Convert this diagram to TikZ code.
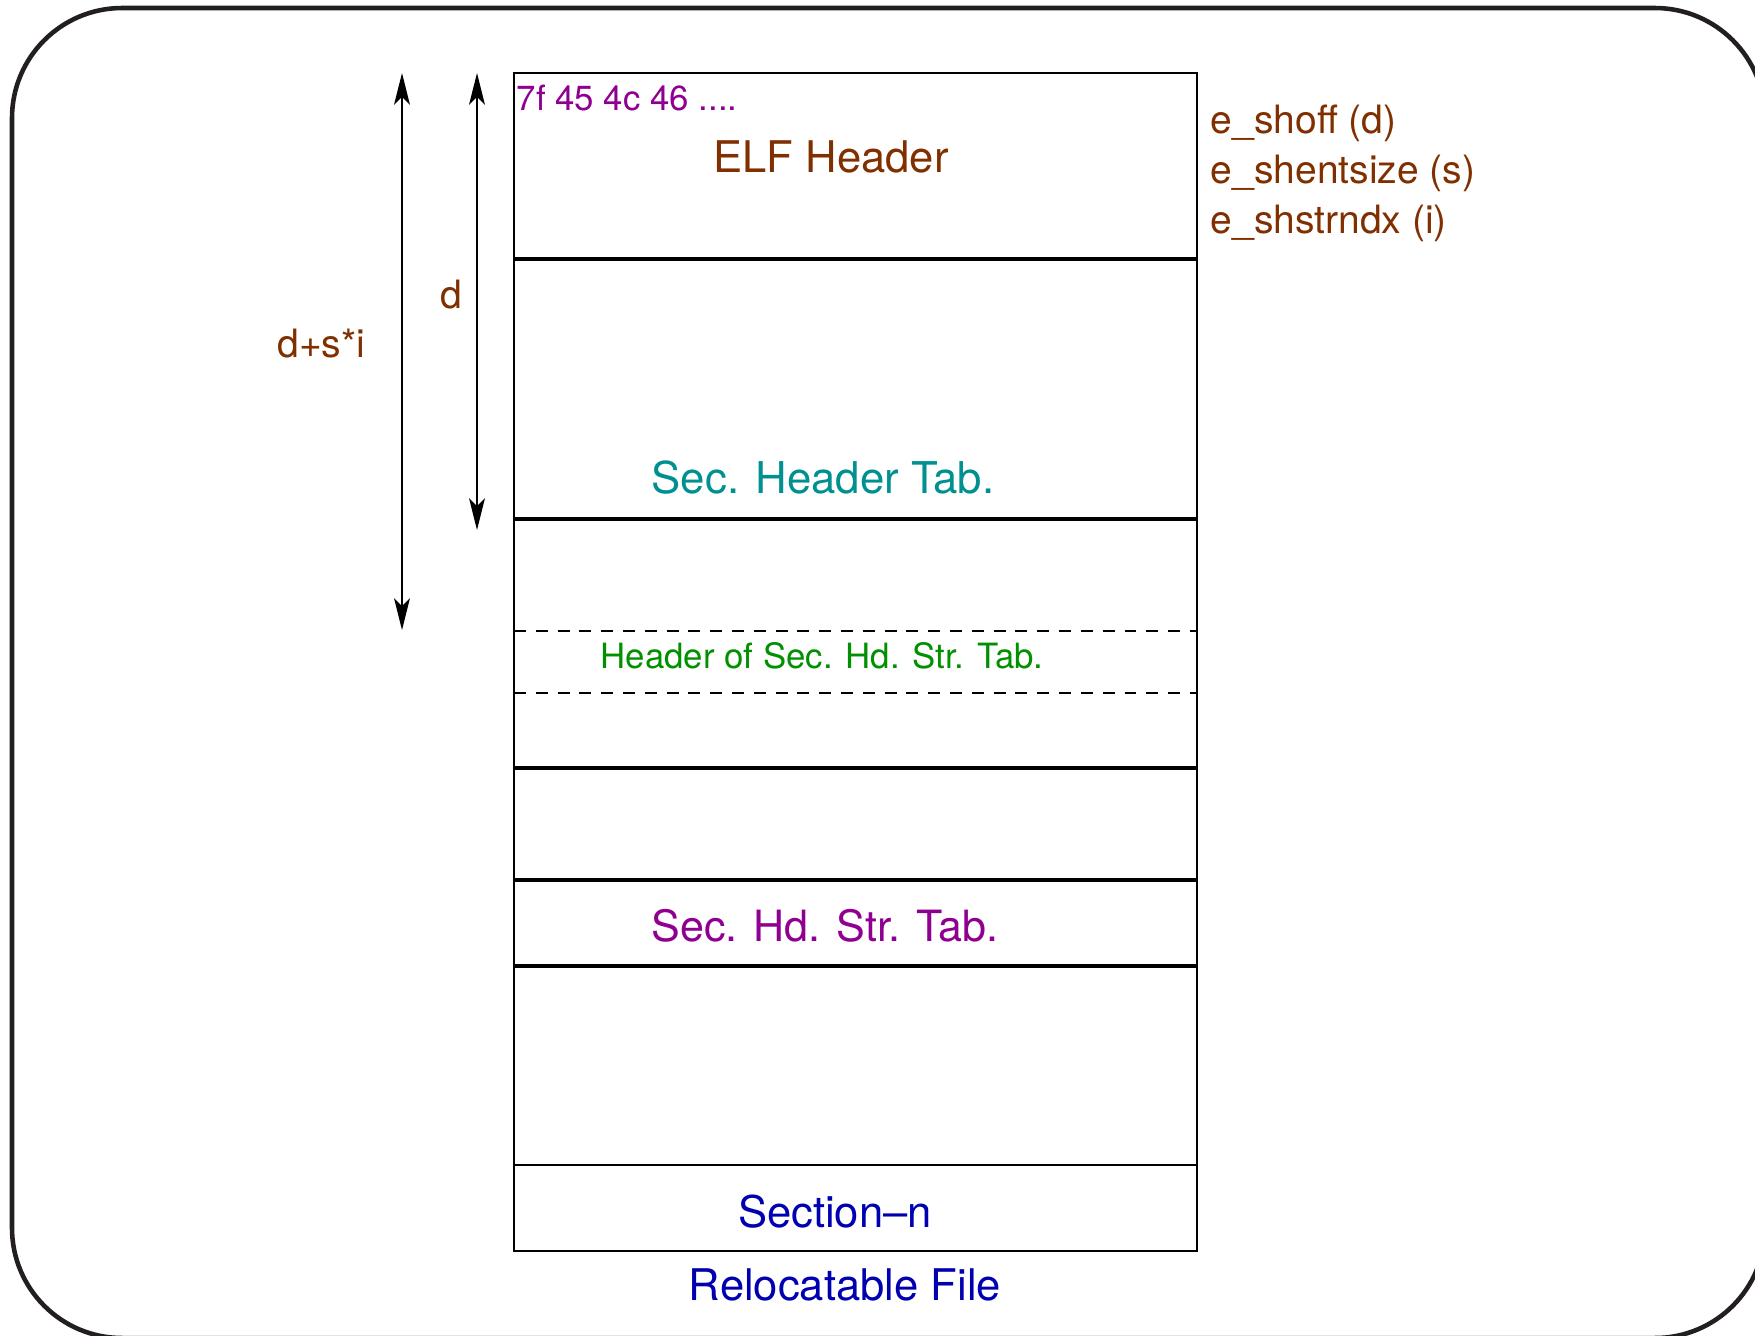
\documentclass[tikz,border=0pt]{standalone}
\usepackage{fontspec}
\setmainfont{TeX Gyre Heros}
\usetikzlibrary{arrows.meta, positioning}

\definecolor{framegray}{HTML}{231F20}
\definecolor{elfbrown}{HTML}{803000}
\definecolor{hexpurple}{HTML}{900090}
\definecolor{shtteal}{HTML}{009090}
\definecolor{hdrgreen}{HTML}{009000}
\definecolor{fileblue}{HTML}{0000B0}

\begin{document}
\begin{tikzpicture}[
    x=0.01cm, y=-0.01cm,
    frame/.style={draw=framegray, line width=1.3pt, rounded corners=1.1cm},
    boxline/.style={draw=black, line width=0.6pt},
    sepline/.style={draw=black, line width=1.2pt},
    dashsep/.style={draw=black, line width=0.6pt, dash pattern=on 3.4pt off 2.8pt},
    dimarrow/.style={line width=0.6pt, {Stealth[length=9pt, width=4.5pt, inset=2.2pt]}-{Stealth[length=9pt, width=4.5pt, inset=2.2pt]}},
    bigtext/.style={font=\fontsize{12.4}{15}\selectfont, inner sep=0pt},
    midtext/.style={font=\fontsize{11.1}{13}\selectfont, inner sep=0pt},
    smalltext/.style={font=\fontsize{9.9}{12}\selectfont, inner sep=0pt}
]

\useasboundingbox (0,0) rectangle (1755,1335);

% Slide frame
\draw[frame] (12,8) rectangle (1765,1338);

% File layout
\draw[boxline] (514,73) rectangle (1197,1251);
\foreach \y in {259,519,768,880,966}
    \draw[sepline] (514,\y) -- (1197,\y);
\foreach \y in {631,693}
    \draw[dashsep] (514,\y) -- (1197,\y);
\draw[boxline] (514,1165) -- (1197,1165);

% Nodes
\node[smalltext, text=hexpurple, anchor=base west] (hexmagic) at (516,110) {7f 45 4c 46 ....};
\node[bigtext, text=elfbrown, anchor=base] (elfhdr) at (831,172) {ELF Header};

\node[midtext, text=elfbrown, anchor=base west] (shoff) at (1210,133) {e\_shoff (d)};
\node[midtext, text=elfbrown, below=0.5cm of shoff.base west, anchor=base west] (shentsize) {e\_shentsize (s)};
\node[midtext, text=elfbrown, below=0.5cm of shentsize.base west, anchor=base west] (shstrndx) {e\_shstrndx (i)};

\node[bigtext, font=\fontsize{12.45}{15}\selectfont, text=shtteal, anchor=base] (shtab) at (823,493) {Sec. Header Tab.};
\node[smalltext, text=hdrgreen, anchor=base] (shstrhdr) at (822,668) {Header of Sec. Hd. Str. Tab.};
\node[bigtext, font=\fontsize{12.25}{15}\selectfont, text=hexpurple, anchor=base] (shstrtab) at (825,941) {Sec. Hd. Str. Tab.};
\node[bigtext, text=fileblue, anchor=base] (secn) at (835,1227) {Section--n};
\node[bigtext, text=fileblue, anchor=base] (filelbl) at (845,1300) {Relocatable File};

\node[midtext, text=elfbrown, anchor=base] (dlbl) at (451,308) {d};
\node[midtext, text=elfbrown, anchor=base east] (dsilbl) at (366,357) {d+s*i};

% Offsets
\coordinate (dtop) at (477,73);
\coordinate (dbot) at (477,530);
\coordinate (dsitop) at (402,73);
\coordinate (dsibot) at (402,630);

% Arrows
\draw[dimarrow] (dtop) -- (dbot);
\draw[dimarrow] (dsitop) -- (dsibot);

\end{tikzpicture}
\end{document}
